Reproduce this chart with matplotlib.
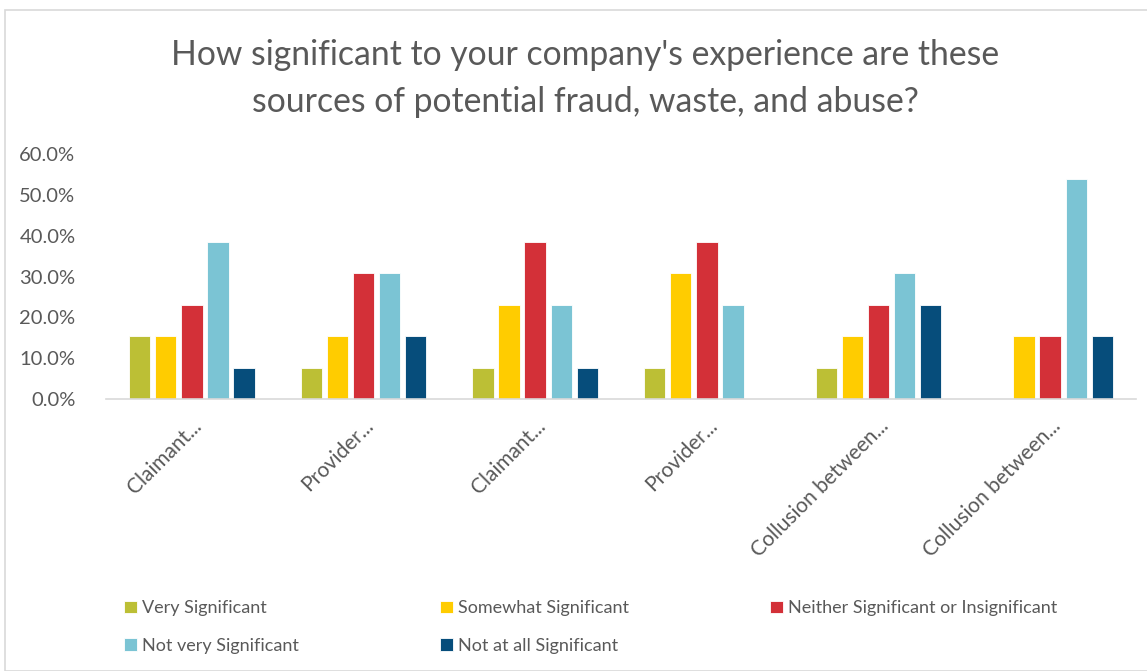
import numpy as np
import matplotlib
matplotlib.use("Agg")
import matplotlib.pyplot as plt
from matplotlib.patches import Rectangle
from matplotlib.ticker import FuncFormatter

plt.rcParams['font.family'] = ['Lato', 'DejaVu Sans']

# categories (as shown, truncated by the source chart)
categories = ["Claimant...", "Provider...", "Claimant...", "Provider...",
              "Collusion between...", "Collusion between..."]

series_names = ["Very Significant", "Somewhat Significant",
                "Neither Significant or Insignificant",
                "Not very Significant", "Not at all Significant"]

very_sig = [15.4, 7.7, 7.7, 7.7, 7.7, 0.0]
somewhat_sig = [15.4, 15.4, 23.1, 30.8, 15.4, 15.4]
neither_sig = [23.1, 30.8, 38.5, 38.5, 23.1, 15.4]
not_very_sig = [38.5, 30.8, 23.1, 23.1, 30.8, 53.8]
not_at_all_sig = [7.7, 15.4, 7.7, 0.0, 23.1, 15.4]

colors = ["#BCBF35", "#FFCC00", "#D33038", "#7BC4D4", "#064D7B"]
text_col = "#595959"

W, H = 1147, 671
fig = plt.figure(figsize=(W / 100, H / 100), dpi=100)

# outer chart border like the Excel frame
fig.patches.append(Rectangle((5 / W, 0), 1.2, 1 - 10 / H, transform=fig.transFigure,
                             fill=False, edgecolor="#D9D9D9", linewidth=1.2))

ax = fig.add_axes([106 / W, 1 - 399 / H, 1030 / W, (399 - 154) / H])

series = [very_sig, somewhat_sig, neither_sig, not_very_sig, not_at_all_sig]
x = np.arange(len(categories))
slot = 0.152
bw = 0.125
for i, (vals, name, c) in enumerate(zip(series, series_names, colors)):
    ax.bar(x + (i - 2) * slot, vals, width=bw, color=c, label=name,
           edgecolor="white", linewidth=0.6)

ax.set_xlim(-0.5, len(categories) - 0.5)
ax.set_ylim(0, 60)
ax.set_yticks(np.arange(0, 61, 10))
ax.yaxis.set_major_formatter(FuncFormatter(lambda v, p: f"{v:.1f}%"))
ax.tick_params(axis="y", length=0, labelsize=14.5, labelcolor=text_col, pad=22)
ax.set_xticks(x)
ax.set_xticklabels(categories, rotation=45, ha="right", rotation_mode="anchor",
                   fontsize=15, color=text_col)
ax.tick_params(axis="x", length=0, pad=12)
for s in ["top", "right", "left"]:
    ax.spines[s].set_visible(False)
ax.spines["bottom"].set_color("#D9D9D9")
ax.spines["bottom"].set_linewidth(1.2)

fig.text(585 / W, 1 - 55 / H, "How significant to your company's experience are these",
         ha="center", va="center", fontsize=24.3, color=text_col)
fig.text(585 / W, 1 - 102 / H, "sources of potential fraud, waste, and abuse?",
         ha="center", va="center", fontsize=24.3, color=text_col)

# legend laid out row by row (matplotlib fills columns first)
handles, labels = ax.get_legend_handles_labels()
order = [0, 3, 1, 4, 2]
leg = fig.legend([handles[i] for i in order], [labels[i] for i in order],
                 ncol=3, loc="upper left",
                 bbox_to_anchor=(108 / W, 1 - 584 / H), frameon=False,
                 fontsize=13, handlelength=0.7, handleheight=0.7,
                 handletextpad=0.3, columnspacing=7.8, labelspacing=1.2,
                 labelcolor=text_col)

fig.savefig("out.png", dpi=100)
